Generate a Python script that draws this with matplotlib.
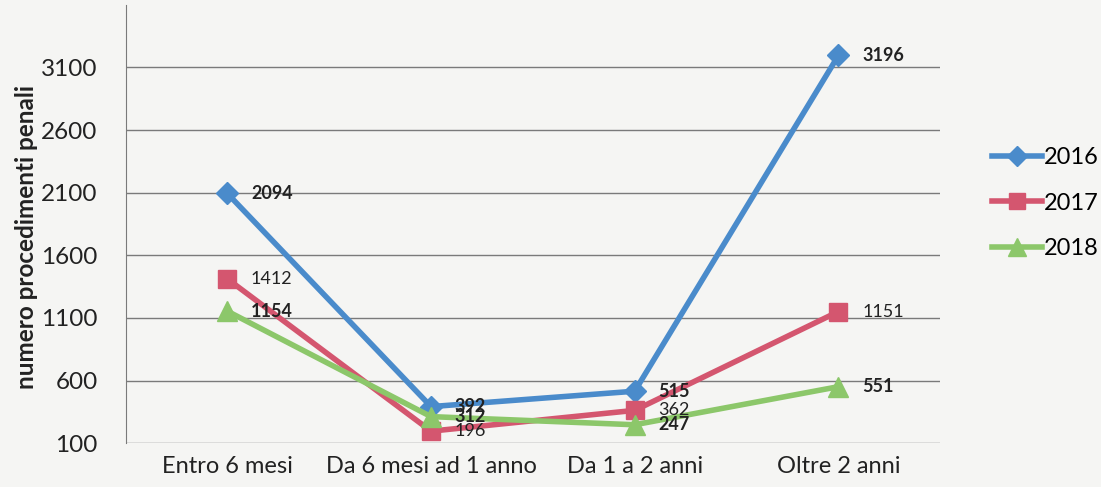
import matplotlib.pyplot as plt

plt.rcParams['font.family'] = ['Lato', 'DejaVu Sans']

# fasce di durata e numero di procedimenti per anno
categorie = ['Entro 6 mesi', 'Da 6 mesi ad 1 anno', 'Da 1 a 2 anni', 'Oltre 2 anni']
anni = ['2016', '2017', '2018']
v2016 = [2094, 392, 515, 3196]
v2017 = [1412, 196, 362, 1151]
v2018 = [1154, 312, 247, 551]
tick_y = [100, 600, 1100, 1600, 2100, 2600, 3100]

serie = [v2016, v2017, v2018]
colori = ['#4a8bcb', '#d4566f', '#8cc76a']
marker = ['D', 's', '^']
msize = [11, 13, 14]
grassetto = ['bold', 'normal', 'bold']

fig = plt.figure(figsize=(11.01, 4.87), dpi=100, facecolor='#f5f5f3')
ax = fig.add_axes([0.114, 0.09, 0.74, 0.90])
ax.set_facecolor('#f5f5f3')

x = list(range(len(categorie)))
for i in range(3):
    ax.plot(x, serie[i], color=colori[i], lw=4, marker=marker[i], ms=msize[i],
            label=anni[i], zorder=3 + i * 0.1)
    for xi, v in zip(x, serie[i]):
        ax.annotate(str(v), (xi, v), xytext=(17, 0), textcoords='offset points',
                    va='center', ha='left', fontsize=13, fontweight=grassetto[i],
                    color='#222222', zorder=5)

ax.set_xlim(-0.5, 3.5)
ax.set_ylim(100, 3600)
ax.set_yticks(tick_y)
ax.set_xticks(x)
ax.set_xticklabels(categorie)
ax.grid(axis='y', color='#7a7a7a', lw=1)
ax.tick_params(length=0, colors='#222222')
ax.tick_params(axis='x', labelsize=17, pad=9)
ax.tick_params(axis='y', labelsize=17.5, pad=20)
for s in ['top', 'right', 'bottom']:
    ax.spines[s].set_visible(False)
ax.spines['left'].set_color('#7a7a7a')
ax.set_ylabel('numero procedimenti penali', fontsize=17.5, fontweight='bold',
              color='#222222')
ax.yaxis.set_label_coords(-0.107, 0.47)

fig.legend(loc='center left', bbox_to_anchor=(0.882, 0.583), frameon=False,
           fontsize=17, handlelength=2.1, labelspacing=1.05, handletextpad=0.1,
           markerscale=0.9)

fig.savefig('out.png', dpi=100, facecolor=fig.get_facecolor())
